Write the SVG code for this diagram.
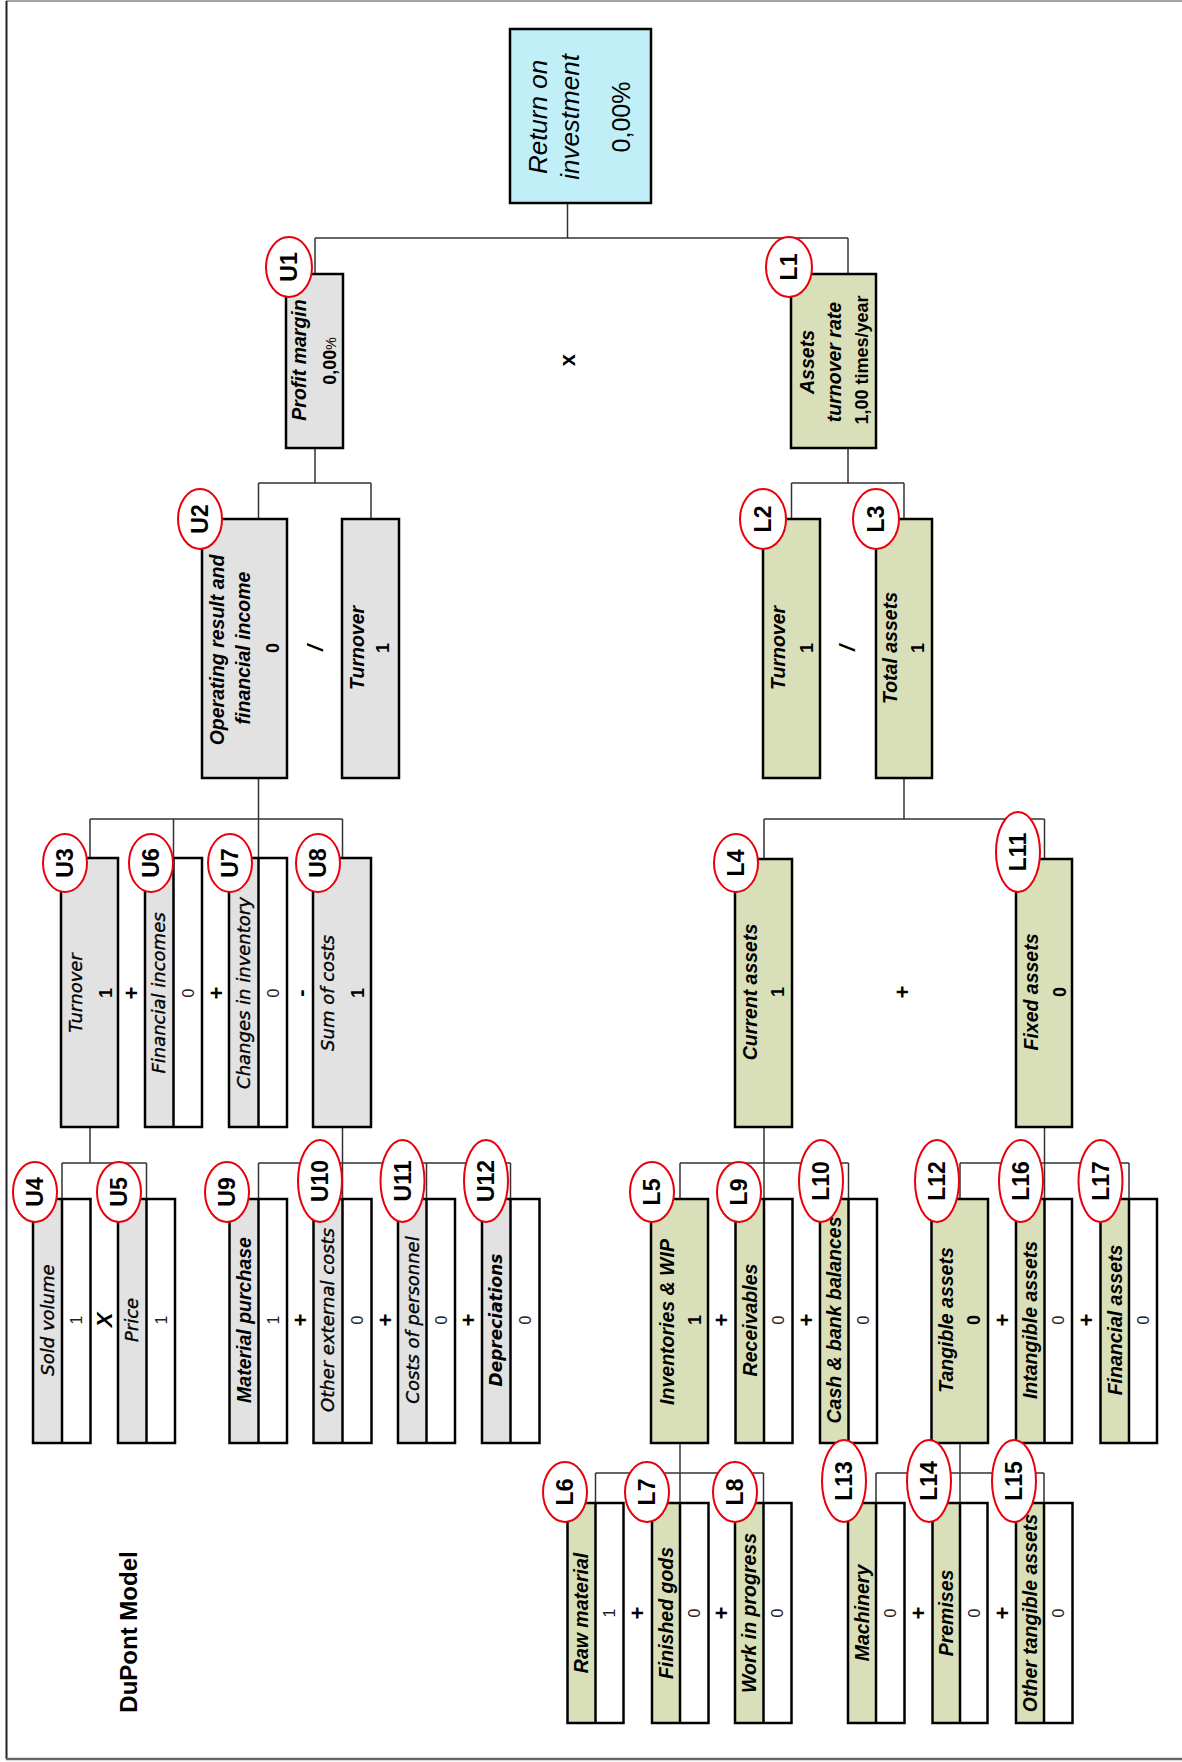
<svg xmlns="http://www.w3.org/2000/svg" width="1182" height="1762" viewBox="0 0 1182 1762">
<style>
.bx{stroke:#000;stroke-width:2.5}
.gy{fill:#e2e2e2}.gn{fill:#d9dfb8}.wh{fill:#fff}.cy{fill:#c0eff7}
.dv{stroke:#000;stroke-width:2.5}
text{text-anchor:middle;fill:#000}
.a{font-family:"Liberation Sans",Arial,sans-serif;font-style:italic;font-weight:bold;font-size:19.5px}
.ab{font-family:"Liberation Sans",Arial,sans-serif;font-style:italic;font-weight:bold;font-size:19.5px}
.t{font-family:"DejaVu Sans",Verdana,sans-serif;font-style:italic;font-size:18px;stroke:#000;stroke-width:0.35}
.tb{font-family:"DejaVu Sans",Verdana,sans-serif;font-style:italic;font-weight:bold;font-size:17px}
.v{font-family:"Liberation Sans",Arial,sans-serif;font-weight:bold;font-size:18px}
.s{font-family:"Liberation Sans",Arial,sans-serif;font-size:16px;fill:#222}
.op{font-family:"Liberation Sans",Arial,sans-serif;font-weight:bold;font-size:22px}
.tag ellipse{fill:#fff;stroke:#e8000b;stroke-width:2}
.tag text{font-family:"Liberation Sans",Arial,sans-serif;font-weight:bold;font-size:23px}
.cn{fill:none;stroke:#333;stroke-width:1.5}
</style>
<g id="frame" fill="none">
<path d="M6,1 H1182" stroke="#888" stroke-width="1.5"/>
<path d="M6.5,1 V1759" stroke="#222" stroke-width="2"/>
<path d="M6,1759 H1182" stroke="#666" stroke-width="2.5"/>
</g>
<g id="connectors" class="cn">
<path d="M567.5,203V238M315,238H848M315,238V274M848,238V274"/>
<path d="M315,448V483M258.5,483H371M258.5,483V519M371,483V519"/>
<path d="M848,448V483M791.5,483H904M791.5,483V519M904,483V519"/>
<path d="M258.5,778V858M90,819H342.5M90,819V858M173.5,819V858M342.5,819V858"/>
<path d="M904,778V819M764,819H1044.5M764,819V859M1044.5,819V859"/>
<path d="M90,1127V1163M62,1163H146.5M62,1163V1199M146.5,1163V1199"/>
<path d="M342.5,1127V1163M258.5,1163H510.5M258.5,1163V1199M342.5,1163V1199M426.5,1163V1199M510.5,1163V1199"/>
<path d="M764,1127V1163M680,1163H848.5M680,1163V1199M764,1163V1199M848.5,1163V1199"/>
<path d="M1044.5,1127V1163M960,1163H1129M960,1163V1199M1044.5,1163V1199M1129,1163V1199"/>
<path d="M680,1443V1473M595.5,1473H763.5M595.5,1473V1503M680,1473V1503M763.5,1473V1503"/>
<path d="M960,1443V1473M876,1473H1044M876,1473V1503M960,1473V1503M1044,1473V1503"/>
</g>
<g id="operators">
<text class="op" transform="rotate(-90)" x="-360" y="567" dy=".35em">x</text>
<text class="op" transform="rotate(-90)" x="-648" y="315" dy=".35em" font-style="italic">/</text>
<text class="op" transform="rotate(-90)" x="-648" y="847" dy=".35em" font-style="italic">/</text>
<text class="op" transform="rotate(-90)" x="-993" y="131" dy=".35em">+</text>
<text class="op" transform="rotate(-90)" x="-993" y="216" dy=".35em">+</text>
<text class="op" transform="rotate(-90)" x="-993" y="300" dy=".35em">-</text>
<text class="op" transform="rotate(-90)" x="-992" y="902" dy=".35em">+</text>
<text class="op" transform="rotate(-90)" x="-1320" y="104" dy=".35em" font-style="italic">X</text>
<text class="op" transform="rotate(-90)" x="-1320" y="300" dy=".35em">+</text>
<text class="op" transform="rotate(-90)" x="-1320" y="385" dy=".35em">+</text>
<text class="op" transform="rotate(-90)" x="-1320" y="468.5" dy=".35em">+</text>
<text class="op" transform="rotate(-90)" x="-1320" y="721.5" dy=".35em">+</text>
<text class="op" transform="rotate(-90)" x="-1320" y="806" dy=".35em">+</text>
<text class="op" transform="rotate(-90)" x="-1320" y="1002" dy=".35em">+</text>
<text class="op" transform="rotate(-90)" x="-1320" y="1086.5" dy=".35em">+</text>
<text class="op" transform="rotate(-90)" x="-1613" y="637.5" dy=".35em">+</text>
<text class="op" transform="rotate(-90)" x="-1613" y="721.5" dy=".35em">+</text>
<text class="op" transform="rotate(-90)" x="-1613" y="918.5" dy=".35em">+</text>
<text class="op" transform="rotate(-90)" x="-1613" y="1002" dy=".35em">+</text>
</g>
<g id="title"><text transform="rotate(-90)" x="-1632" y="129" dy=".35em" font-family="Liberation Sans, Arial, sans-serif" font-weight="bold" font-size="24">DuPont Model</text></g>

<g id="roi"><rect class="bx cy" x="510" y="29" width="141" height="174"/>
<g transform="rotate(-90)"><text x="-117" y="538" dy=".35em" font-family="Liberation Sans, Arial, sans-serif" font-style="italic" font-size="26">Return on</text>
<text x="-117" y="569.5" dy=".35em" font-family="Liberation Sans, Arial, sans-serif" font-style="italic" font-size="26">investment</text>
<text x="-117" y="621" dy=".35em" font-family="Liberation Sans, Arial, sans-serif" font-size="25">0,00%</text></g></g>

<g id="U1"><rect class="bx gy" x="286" y="274" width="57" height="174"/>
<g transform="rotate(-90)"><text class="ab" x="-360" y="299" dy=".35em">Profit margin</text>
<text class="v" x="-361" y="330" dy=".35em" font-size="19">0,00<tspan font-size="14" font-weight="normal">%</tspan></text></g>
<g class="tag"><ellipse cx="289" cy="267" rx="23" ry="30"/><text transform="rotate(-90)" x="-267" y="289" dy=".35em">U1</text></g></g>

<g id="L1"><rect class="bx gn" x="791" y="274" width="85" height="174"/>
<g transform="rotate(-90)"><text class="ab" x="-362" y="807" dy=".35em">Assets</text>
<text class="ab" x="-362" y="834" dy=".35em">turnover rate</text>
<text class="v" x="-360" y="862" dy=".35em" font-size="20">1,00 times/year</text></g>
<g class="tag"><ellipse cx="789" cy="267" rx="23" ry="30"/><text transform="rotate(-90)" x="-267" y="789" dy=".35em">L1</text></g></g>

<g id="U2"><rect class="bx gy" x="202" y="519" width="85" height="259"/>
<g transform="rotate(-90)"><text class="a" x="-650" y="217" dy=".35em" font-size="19">Operating result and</text>
<text class="a" x="-648" y="243" dy=".35em" font-size="19">financial income</text>
<text class="v" x="-648" y="273" dy=".35em" font-size="19">0</text></g>
<g class="tag"><ellipse cx="200" cy="519" rx="22" ry="30"/><text transform="rotate(-90)" x="-519" y="200" dy=".35em">U2</text></g></g>

<g id="U2b"><rect class="bx gy" x="342" y="519" width="57" height="259"/>
<g transform="rotate(-90)"><text class="ab" x="-648" y="357" dy=".35em">Turnover</text>
<text class="v" x="-648" y="383" dy=".35em">1</text></g></g>

<g id="L2"><rect class="bx gn" x="763" y="519" width="57" height="259"/>
<g transform="rotate(-90)"><text class="a" x="-648" y="778" dy=".35em">Turnover</text>
<text class="v" x="-648" y="807" dy=".35em">1</text></g>
<g class="tag"><ellipse cx="763" cy="519" rx="23" ry="30"/><text transform="rotate(-90)" x="-519" y="763" dy=".35em">L2</text></g></g>

<g id="L3"><rect class="bx gn" x="876" y="519" width="56" height="259"/>
<g transform="rotate(-90)"><text class="a" x="-648" y="890" dy=".35em">Total assets</text>
<text class="v" x="-648" y="918" dy=".35em">1</text></g>
<g class="tag"><ellipse cx="876" cy="519" rx="23" ry="30"/><text transform="rotate(-90)" x="-519" y="876" dy=".35em">L3</text></g></g>

<g id="U3"><rect class="bx gy" x="61" y="858" width="57" height="269"/>
<g transform="rotate(-90)"><text class="t" x="-993" y="76" dy=".35em">Turnover</text>
<text class="v" x="-993" y="106" dy=".35em">1</text></g>
<g class="tag"><ellipse cx="65" cy="863" rx="22" ry="29"/><text transform="rotate(-90)" x="-863" y="65" dy=".35em">U3</text></g></g>

<g id="U6"><rect class="gy" x="145" y="858" width="28.5" height="269"/><rect class="wh" x="173.5" y="858" width="28.5" height="269"/><rect class="bx" fill="none" x="145" y="858" width="57" height="269"/><path class="dv" d="M173.5,858V1127"/>
<g transform="rotate(-90)"><text class="t" x="-993" y="159" dy=".35em">Financial incomes</text>
<text class="s" x="-993" y="188" dy=".35em">0</text></g>
<g class="tag"><ellipse cx="151" cy="863" rx="22" ry="29"/><text transform="rotate(-90)" x="-863" y="151" dy=".35em">U6</text></g></g>

<g id="U7"><rect class="gy" x="229" y="858" width="29.5" height="269"/><rect class="wh" x="258.5" y="858" width="28.5" height="269"/><rect class="bx" fill="none" x="229" y="858" width="58" height="269"/><path class="dv" d="M258.5,858V1127"/>
<g transform="rotate(-90)"><text class="t" x="-993" y="244" dy=".35em">Changes in inventory</text>
<text class="s" x="-993" y="273" dy=".35em">0</text></g>
<g class="tag"><ellipse cx="230" cy="863" rx="22" ry="29"/><text transform="rotate(-90)" x="-863" y="230" dy=".35em">U7</text></g></g>

<g id="U8"><rect class="bx gy" x="313" y="858" width="58" height="269"/>
<g transform="rotate(-90)"><text class="t" x="-993" y="328" dy=".35em">Sum of costs</text>
<text class="v" x="-993" y="358" dy=".35em">1</text></g>
<g class="tag"><ellipse cx="318" cy="863" rx="22" ry="29"/><text transform="rotate(-90)" x="-863" y="318" dy=".35em">U8</text></g></g>

<g id="L4"><rect class="bx gn" x="735" y="859" width="57" height="268"/>
<g transform="rotate(-90)"><text class="a" x="-992" y="750" dy=".35em">Current assets</text>
<text class="v" x="-992" y="778" dy=".35em">1</text></g>
<g class="tag"><ellipse cx="736" cy="863" rx="22" ry="29"/><text transform="rotate(-90)" x="-863" y="736" dy=".35em">L4</text></g></g>

<g id="L11"><rect class="bx gn" x="1016" y="859" width="56" height="268"/>
<g transform="rotate(-90)"><text class="a" x="-992" y="1031" dy=".35em">Fixed assets</text>
<text class="v" x="-992" y="1059.5" dy=".35em">0</text></g>
<g class="tag"><ellipse cx="1018" cy="852" rx="22" ry="40"/><text transform="rotate(-90)" x="-852" y="1018" dy=".35em">L11</text></g></g>

<g id="U4"><rect class="gy" x="33" y="1199" width="29" height="244"/><rect class="wh" x="62" y="1199" width="28.5" height="244"/><rect class="bx" fill="none" x="33" y="1199" width="57.5" height="244"/><path class="dv" d="M62,1199V1443"/>
<g transform="rotate(-90)"><text class="t" x="-1320" y="47.5" dy=".35em">Sold volume</text>
<text class="s" x="-1320" y="76" dy=".35em">1</text></g>
<g class="tag"><ellipse cx="35" cy="1192" rx="22" ry="30"/><text transform="rotate(-90)" x="-1192" y="35" dy=".35em">U4</text></g></g>

<g id="U5"><rect class="gy" x="118" y="1199" width="28.5" height="244"/><rect class="wh" x="146.5" y="1199" width="28.5" height="244"/><rect class="bx" fill="none" x="118" y="1199" width="57" height="244"/><path class="dv" d="M146.5,1199V1443"/>
<g transform="rotate(-90)"><text class="t" x="-1320" y="132" dy=".35em">Price</text>
<text class="s" x="-1320" y="161" dy=".35em">1</text></g>
<g class="tag"><ellipse cx="119" cy="1192" rx="22" ry="30"/><text transform="rotate(-90)" x="-1192" y="119" dy=".35em">U5</text></g></g>

<g id="U9"><rect class="gy" x="229.5" y="1199" width="29" height="244"/><rect class="wh" x="258.5" y="1199" width="28.5" height="244"/><rect class="bx" fill="none" x="229.5" y="1199" width="57.5" height="244"/><path class="dv" d="M258.5,1199V1443"/>
<g transform="rotate(-90)"><text class="ab" x="-1320" y="244" dy=".35em">Material purchase</text>
<text class="s" x="-1320" y="273" dy=".35em">1</text></g>
<g class="tag"><ellipse cx="227" cy="1192" rx="22" ry="30"/><text transform="rotate(-90)" x="-1192" y="227" dy=".35em">U9</text></g></g>

<g id="U10"><rect class="gy" x="313.5" y="1199" width="29" height="244"/><rect class="wh" x="342.5" y="1199" width="29" height="244"/><rect class="bx" fill="none" x="313.5" y="1199" width="58" height="244"/><path class="dv" d="M342.5,1199V1443"/>
<g transform="rotate(-90)"><text class="t" x="-1320" y="328" dy=".35em">Other external costs</text>
<text class="s" x="-1320" y="357" dy=".35em">0</text></g>
<g class="tag"><ellipse cx="320" cy="1181" rx="22" ry="41"/><text transform="rotate(-90)" x="-1181" y="320" dy=".35em">U10</text></g></g>

<g id="U11"><rect class="gy" x="398" y="1199" width="28.5" height="244"/><rect class="wh" x="426.5" y="1199" width="28.5" height="244"/><rect class="bx" fill="none" x="398" y="1199" width="57" height="244"/><path class="dv" d="M426.5,1199V1443"/>
<g transform="rotate(-90)"><text class="t" x="-1320" y="412.5" dy=".35em">Costs of personnel</text>
<text class="s" x="-1320" y="441" dy=".35em">0</text></g>
<g class="tag"><ellipse cx="402.5" cy="1181" rx="22" ry="41"/><text transform="rotate(-90)" x="-1181" y="402.5" dy=".35em">U11</text></g></g>

<g id="U12"><rect class="gy" x="482" y="1199" width="28.5" height="244"/><rect class="wh" x="510.5" y="1199" width="29" height="244"/><rect class="bx" fill="none" x="482" y="1199" width="57.5" height="244"/><path class="dv" d="M510.5,1199V1443"/>
<g transform="rotate(-90)"><text class="tb" x="-1320" y="496.5" dy=".35em">Depreciations</text>
<text class="s" x="-1320" y="525" dy=".35em">0</text></g>
<g class="tag"><ellipse cx="486" cy="1181" rx="22" ry="41"/><text transform="rotate(-90)" x="-1181" y="486" dy=".35em">U12</text></g></g>

<g id="L5"><rect class="bx gn" x="651" y="1199" width="57" height="244"/>
<g transform="rotate(-90)"><text class="a" x="-1322" y="667" dy=".35em">Inventories &amp; WIP</text>
<text class="v" x="-1320" y="695" dy=".35em">1</text></g>
<g class="tag"><ellipse cx="652" cy="1192" rx="22" ry="30"/><text transform="rotate(-90)" x="-1192" y="652" dy=".35em">L5</text></g></g>

<g id="L9"><rect class="gn" x="735.5" y="1199" width="28.5" height="244"/><rect class="wh" x="764" y="1199" width="28.5" height="244"/><rect class="bx" fill="none" x="735.5" y="1199" width="57" height="244"/><path class="dv" d="M764,1199V1443"/>
<g transform="rotate(-90)"><text class="a" x="-1320" y="750" dy=".35em">Receivables</text>
<text class="s" x="-1320" y="778.5" dy=".35em">0</text></g>
<g class="tag"><ellipse cx="739" cy="1192" rx="22" ry="30"/><text transform="rotate(-90)" x="-1192" y="739" dy=".35em">L9</text></g></g>

<g id="L10"><rect class="gn" x="820" y="1199" width="28.5" height="244"/><rect class="wh" x="848.5" y="1199" width="28.5" height="244"/><rect class="bx" fill="none" x="820" y="1199" width="57" height="244"/><path class="dv" d="M848.5,1199V1443"/>
<g transform="rotate(-90)"><text class="a" x="-1320" y="834" dy=".35em" font-size="19">Cash &amp; bank balances</text>
<text class="s" x="-1320" y="863" dy=".35em">0</text></g>
<g class="tag"><ellipse cx="821" cy="1181" rx="22" ry="41"/><text transform="rotate(-90)" x="-1181" y="821" dy=".35em">L10</text></g></g>

<g id="L12"><rect class="bx gn" x="931.5" y="1199" width="56.5" height="244"/>
<g transform="rotate(-90)"><text class="a" x="-1320" y="946.5" dy=".35em">Tangible assets</text>
<text class="v" x="-1320" y="974" dy=".35em">0</text></g>
<g class="tag"><ellipse cx="937" cy="1181" rx="22" ry="41"/><text transform="rotate(-90)" x="-1181" y="937" dy=".35em">L12</text></g></g>

<g id="L16"><rect class="gn" x="1016" y="1199" width="28.5" height="244"/><rect class="wh" x="1044.5" y="1199" width="27.5" height="244"/><rect class="bx" fill="none" x="1016" y="1199" width="56" height="244"/><path class="dv" d="M1044.5,1199V1443"/>
<g transform="rotate(-90)"><text class="a" x="-1320" y="1030.5" dy=".35em">Intangible assets</text>
<text class="s" x="-1320" y="1058.5" dy=".35em">0</text></g>
<g class="tag"><ellipse cx="1021" cy="1181" rx="22" ry="41"/><text transform="rotate(-90)" x="-1181" y="1021" dy=".35em">L16</text></g></g>

<g id="L17"><rect class="gn" x="1100.5" y="1199" width="28.5" height="244"/><rect class="wh" x="1129" y="1199" width="28" height="244"/><rect class="bx" fill="none" x="1100.5" y="1199" width="56.5" height="244"/><path class="dv" d="M1129,1199V1443"/>
<g transform="rotate(-90)"><text class="a" x="-1320" y="1115" dy=".35em">Financial assets</text>
<text class="s" x="-1320" y="1143" dy=".35em">0</text></g>
<g class="tag"><ellipse cx="1100.5" cy="1181" rx="22" ry="41"/><text transform="rotate(-90)" x="-1181" y="1100.5" dy=".35em">L17</text></g></g>

<g id="L6"><rect class="gn" x="567.5" y="1503" width="28" height="220"/><rect class="wh" x="595.5" y="1503" width="28" height="220"/><rect class="bx" fill="none" x="567.5" y="1503" width="56" height="220"/><path class="dv" d="M595.5,1503V1723"/>
<g transform="rotate(-90)"><text class="ab" x="-1613" y="581.5" dy=".35em">Raw material</text>
<text class="s" x="-1613" y="609.5" dy=".35em">1</text></g>
<g class="tag"><ellipse cx="565" cy="1492" rx="22" ry="30"/><text transform="rotate(-90)" x="-1492" y="565" dy=".35em">L6</text></g></g>

<g id="L7"><rect class="gn" x="652" y="1503" width="28" height="220"/><rect class="wh" x="680" y="1503" width="28.5" height="220"/><rect class="bx" fill="none" x="652" y="1503" width="56.5" height="220"/><path class="dv" d="M680,1503V1723"/>
<g transform="rotate(-90)"><text class="ab" x="-1613" y="666" dy=".35em">Finished gods</text>
<text class="s" x="-1613" y="694.5" dy=".35em">0</text></g>
<g class="tag"><ellipse cx="647" cy="1492" rx="22" ry="30"/><text transform="rotate(-90)" x="-1492" y="647" dy=".35em">L7</text></g></g>

<g id="L8"><rect class="gn" x="735" y="1503" width="28.5" height="220"/><rect class="wh" x="763.5" y="1503" width="28" height="220"/><rect class="bx" fill="none" x="735" y="1503" width="56.5" height="220"/><path class="dv" d="M763.5,1503V1723"/>
<g transform="rotate(-90)"><text class="ab" x="-1613" y="749.5" dy=".35em">Work in progress</text>
<text class="s" x="-1613" y="777.5" dy=".35em">0</text></g>
<g class="tag"><ellipse cx="735" cy="1492" rx="22" ry="30"/><text transform="rotate(-90)" x="-1492" y="735" dy=".35em">L8</text></g></g>

<g id="L13"><rect class="gn" x="848" y="1503" width="28" height="220"/><rect class="wh" x="876" y="1503" width="28.5" height="220"/><rect class="bx" fill="none" x="848" y="1503" width="56.5" height="220"/><path class="dv" d="M876,1503V1723"/>
<g transform="rotate(-90)"><text class="ab" x="-1613" y="862" dy=".35em">Machinery</text>
<text class="s" x="-1613" y="890.5" dy=".35em">0</text></g>
<g class="tag"><ellipse cx="844" cy="1481" rx="22" ry="41"/><text transform="rotate(-90)" x="-1481" y="844" dy=".35em">L13</text></g></g>

<g id="L14"><rect class="gn" x="932.5" y="1503" width="27.5" height="220"/><rect class="wh" x="960" y="1503" width="27.5" height="220"/><rect class="bx" fill="none" x="932.5" y="1503" width="55" height="220"/><path class="dv" d="M960,1503V1723"/>
<g transform="rotate(-90)"><text class="ab" x="-1613" y="946" dy=".35em">Premises</text>
<text class="s" x="-1613" y="974" dy=".35em">0</text></g>
<g class="tag"><ellipse cx="929" cy="1481" rx="22" ry="41"/><text transform="rotate(-90)" x="-1481" y="929" dy=".35em">L14</text></g></g>

<g id="L15"><rect class="gn" x="1016" y="1503" width="28" height="220"/><rect class="wh" x="1044" y="1503" width="28.5" height="220"/><rect class="bx" fill="none" x="1016" y="1503" width="56.5" height="220"/><path class="dv" d="M1044,1503V1723"/>
<g transform="rotate(-90)"><text class="ab" x="-1613" y="1030" dy=".35em">Other tangible assets</text>
<text class="s" x="-1613" y="1058.5" dy=".35em">0</text></g>
<g class="tag"><ellipse cx="1014" cy="1481" rx="22" ry="41"/><text transform="rotate(-90)" x="-1481" y="1014" dy=".35em">L15</text></g></g>
</svg>
